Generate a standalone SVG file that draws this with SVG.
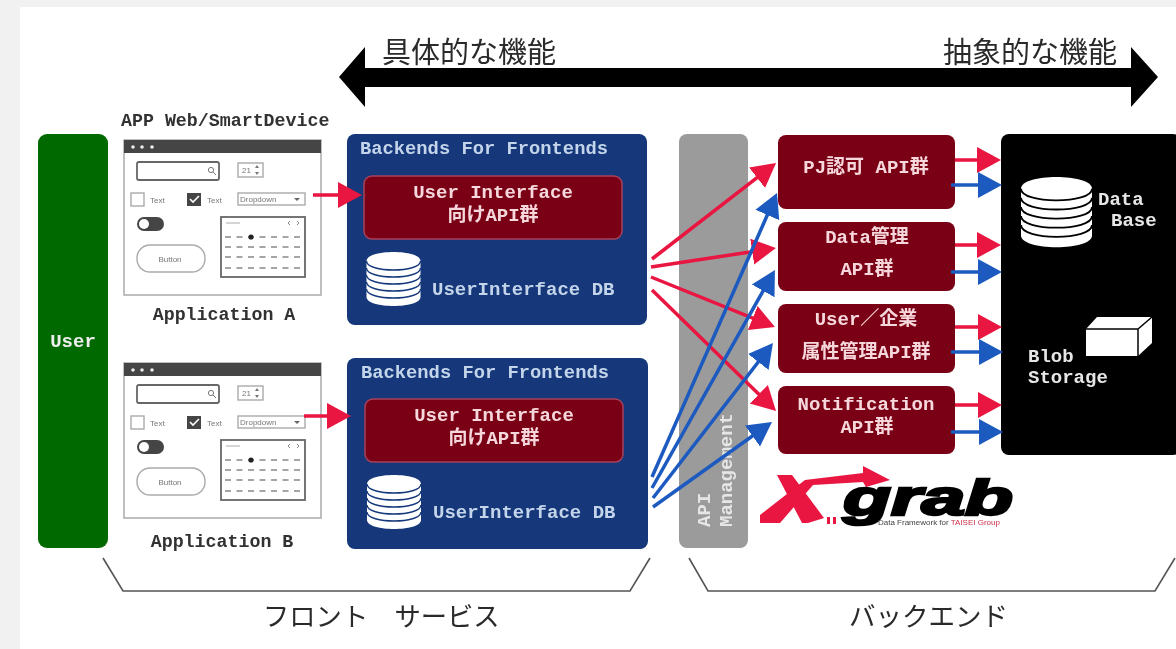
<svg xmlns="http://www.w3.org/2000/svg" width="1176" height="649" viewBox="0 0 1176 649">
<style>
text{font-family:"Liberation Mono","Noto Sans CJK JP",monospace;font-weight:700;font-size:19px}
.jp{font-family:"Noto Sans CJK JP","Noto Sans CJK SC",sans-serif;font-weight:400;fill:#2a2a2a}
.m{text-anchor:middle}
.lt{fill:#f6d8dc}
.bl{fill:#c4d4ea}
.wh{fill:#e6e6e6}
.dk{fill:#333;font-size:18.3px}
.ui{font-family:"Liberation Sans",sans-serif;font-weight:400;font-size:8px;fill:#777}
.red{fill:#7a0016;rx:8px}
.navy{fill:#13387a}
.sh-r{stroke:#e8153f;stroke-width:3.5;fill:none;marker-end:url(#hr)}
.sh-b{stroke:#1c5ac0;stroke-width:3.5;fill:none;marker-end:url(#hb)}
.br{fill:none;stroke:#555;stroke-width:1.6}
.fr{fill:#fff;stroke:#aaa;stroke-width:1.5}
.bd{fill:#fff;stroke:#666;stroke-width:1.8}
.th{fill:#fff;stroke:#aaa;stroke-width:1.4}
.dash{stroke:#888;stroke-width:1.4;stroke-dasharray:6 5.500}
</style>
<defs>
<filter id="soft" x="0" y="0" width="100%" height="100%"><feGaussianBlur stdDeviation="0.45"/></filter>
<marker id="hr" markerUnits="userSpaceOnUse" markerWidth="26" markerHeight="28" refX="18" refY="14" orient="auto" viewBox="0 0 26 28"><path d="M0,1L24,14L0,27Z" fill="#e8153f"/></marker>
<marker id="hb" markerUnits="userSpaceOnUse" markerWidth="26" markerHeight="28" refX="18" refY="14" orient="auto" viewBox="0 0 26 28"><path d="M0,1L24,14L0,27Z" fill="#1c5ac0"/></marker>
<g id="stack">
<path d="M0,9C0,-3 54,-3 54,9V45C54,57 0,57 0,45Z" fill="#fff"/>
<path d="M0,9C0,21 54,21 54,9M0,16C0,28 54,28 54,16M0,23C0,35 54,35 54,23M0,30C0,42 54,42 54,30M0,37C0,49 54,49 54,37" fill="none" stroke="currentColor" stroke-width="1.4"/>
</g>
<g id="mock">
<rect class="fr" x="124" y="140" width="197" height="155"/>
<rect x="124" y="140" width="197" height="13" fill="#444"/>
<circle cx="133" cy="147" r="1.8" fill="#eee"/><circle cx="142" cy="147" r="1.8" fill="#eee"/><circle cx="152" cy="147" r="1.8" fill="#eee"/>
<rect class="bd" x="137" y="162" width="82" height="18" rx="2"/>
<circle cx="211" cy="170" r="2.6" fill="none" stroke="#777"/><path d="M213,172l3,3" stroke="#777"/>
<rect class="th" x="238" y="163" width="25" height="14"/>
<text class="ui" x="242" y="173">21</text>
<path d="M255,168l2,-3l2,3ZM255,172l2,3l2,-3Z" fill="#777"/>
<rect class="th" x="131" y="193" width="13" height="13"/>
<text class="ui" x="150" y="203">Text</text>
<rect x="187" y="193" width="14" height="13" fill="#444"/>
<path d="M190,199l3,3l6,-6" fill="none" stroke="#fff" stroke-width="1.6"/>
<text class="ui" x="207" y="203">Text</text>
<rect class="th" x="238" y="193" width="67" height="12"/>
<text class="ui" x="240" y="202">Dropdown</text>
<path d="M294,198h6l-3,3Z" fill="#666"/>
<rect x="137" y="217" width="27" height="14" rx="7" fill="#444"/>
<circle cx="144" cy="224" r="5" fill="#fff"/>
<rect class="th" x="137" y="245" width="68" height="27" rx="13"/>
<text class="ui m" x="170" y="262">Button</text>
<rect class="bd" x="221" y="217" width="84" height="60"/>
<path d="M226,223h14" stroke="#aaa"/>
<path d="M290,221l-2,2l2,2M297,221l2,2l-2,2" fill="none" stroke="#888"/>
<path class="dash" d="M225,237H302M225,247H302M225,257H302M225,268H302"/>
<circle cx="251" cy="237" r="2.6" fill="#222"/>
</g>
</defs>

<rect width="1176" height="649" fill="#f1f1f1"/>
<rect x="20" y="7" width="1156" height="642" fill="#fff"/>

<g filter="url(#soft)">
<g id="scale">
<path d="M339,77L365,47V68H1131V47L1158,77L1131,107V87H365V107Z" fill="#000"/>
<text class="jp" x="382" y="63" style="font-size:29px">具体的な機能</text>
<text class="jp" x="943" y="63" style="font-size:29px">抽象的な機能</text>
</g>

<g id="user"><rect x="38" y="134" width="70" height="414" rx="9" fill="#046a04"/><text class="wh m" x="73" y="347" style="fill:#eee">User</text></g>

<g id="app-a">
<text class="dk" x="121" y="126">APP Web/SmartDevice</text>
<use href="#mock"/>
<text class="dk m" x="224" y="320">Application A</text>
</g>
<g id="app-b">
<use href="#mock" y="223"/>
<text class="dk m" x="222" y="547">Application B</text>
</g>

<g id="bff-a">
<rect class="navy" x="347" y="134" width="300" height="191" rx="8"/>
<text class="bl" x="360" y="154" style="font-size:18.800px">Backends For Frontends</text>
<rect x="364" y="176" width="258" height="63" rx="8" fill="#7a0016" stroke="#a8405c" stroke-width="1.5"/>
<text class="lt m" x="493" y="198">User Interface</text>
<text class="lt m" x="493" y="221">向けAPI群</text>
<use href="#stack" x="366.500" y="252" color="#13387a"/>
<text class="bl" x="432" y="295">UserInterface DB</text>
</g>
<g id="bff-b">
<rect class="navy" x="347" y="358" width="301" height="191" rx="8"/>
<text class="bl" x="361" y="378" style="font-size:18.800px">Backends For Frontends</text>
<rect x="365" y="399" width="258" height="63" rx="8" fill="#7a0016" stroke="#a8405c" stroke-width="1.5"/>
<text class="lt m" x="494" y="421">User Interface</text>
<text class="lt m" x="494" y="444">向けAPI群</text>
<use href="#stack" x="367" y="475" color="#13387a"/>
<text class="bl" x="433" y="518">UserInterface DB</text>
</g>

<g id="api-management">
<rect x="679" y="134" width="69" height="414" rx="8" fill="#9b9b9b"/>
<text class="wh" transform="translate(710,527) rotate(-90)">API</text>
<text class="wh" transform="translate(732,527) rotate(-90)">Management</text>
</g>

<g id="pj"><rect class="red" x="778" y="135" width="177" height="74"/><text class="lt m" x="866" y="173">PJ認可 API群</text></g>
<g id="data"><rect class="red" x="778" y="222" width="177" height="69"/><text class="lt m" x="867" y="243">Data管理</text><text class="lt m" x="867" y="275">API群</text></g>
<g id="attr"><rect class="red" x="778" y="304" width="177" height="69"/><text class="lt m" x="866" y="325">User／企業</text><text class="lt m" x="866" y="358">属性管理API群</text></g>
<g id="notif"><rect class="red" x="778" y="386" width="177" height="68"/><text class="lt m" x="866" y="410">Notification</text><text class="lt m" x="867" y="433">API群</text></g>

<g id="storage">
<rect x="1001" y="134" width="180" height="321" rx="8" fill="#000"/>
<use href="#stack" transform="translate(1021,177) scale(1.315,1.3)" color="#000"/>
<text class="wh" x="1098" y="205">Data</text>
<text class="wh" x="1111" y="226">Base</text>
<path d="M1086,329L1097,317H1152V343L1138,356H1086Z" fill="#fff"/>
<path d="M1086,329H1138V356M1138,329L1152,317" fill="none" stroke="#000" stroke-width="1.5"/>
<text class="wh" x="1028" y="362">Blob</text>
<text class="wh" x="1028" y="383">Storage</text>
</g>

<g id="logo">
<path d="M777,475H792L824,518L808,523H802Z" fill="#e8153f"/>
<path d="M760,515L805,480L863,473V466L890,480L866,487L863,482L813,485L780,523H760Z" fill="#e8153f"/>
<path d="M827,517h3v7h-3ZM833,517h3v7h-3Z" fill="#e8153f"/>
<text x="843" y="515" textLength="170" lengthAdjust="spacingAndGlyphs" style="font-family:'Liberation Sans',sans-serif;font-weight:700;font-style:italic;font-size:50px;fill:#000;stroke:#000;stroke-width:2.500">grab</text>
<text x="878" y="525" style="font-family:'Liberation Sans',sans-serif;font-weight:400;font-size:8px;fill:#444">Data Framework for <tspan fill="#d0304a">TAISEI Group</tspan></text>
</g>

<g id="connectors">
<path class="sh-r" d="M313,195H356"/>
<path class="sh-r" d="M304,416H345"/>
<path class="sh-r" d="M652,259L771.300,166.700"/>
<path class="sh-r" d="M651,267L770,249"/>
<path class="sh-r" d="M651,277L769.400,324.800"/>
<path class="sh-r" d="M652,290L771.700,406.800"/>
<path class="sh-b" d="M652,477L774.600,198.500"/>
<path class="sh-b" d="M652,488L772,275.200"/>
<path class="sh-b" d="M653,498L769.300,347.700"/>
<path class="sh-b" d="M653,507L767.100,425.500"/>
<path class="sh-r" d="M955,160H995"/>
<path class="sh-r" d="M955,245H995"/>
<path class="sh-r" d="M955,327H996"/>
<path class="sh-r" d="M955,405H996"/>
<path class="sh-b" d="M951,185H996"/>
<path class="sh-b" d="M951,272H996"/>
<path class="sh-b" d="M951,352H997"/>
<path class="sh-b" d="M951,432H997"/>
</g>

<g id="brackets">
<path class="br" d="M103,558L123,591H630L650,558"/>
<path class="br" d="M689,558L708,591H1155L1175,558"/>
<text class="jp" x="263" y="626" style="font-size:26.300px">フロント　サービス</text>
<text class="jp" x="849" y="626" style="font-size:26.500px">バックエンド</text>
</g>
</g>
</svg>
